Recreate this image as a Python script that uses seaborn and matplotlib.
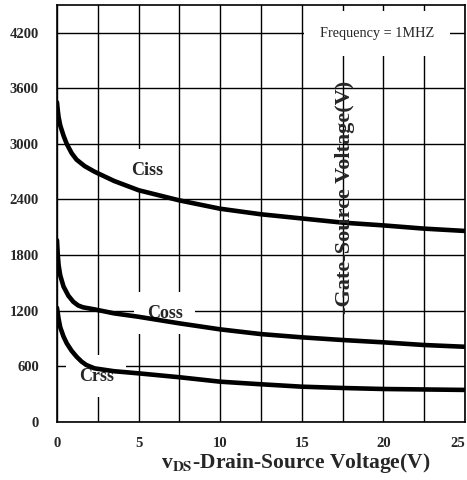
import numpy as np
import pandas as pd
import seaborn as sns
import matplotlib.pyplot as plt

# capacitance vs drain-source voltage
vds_ciss = [0, 0.05, 0.1, 0.2, 0.4, 0.6, 0.9, 1.2, 1.7, 2.3, 3.5, 5, 7.5, 10,
            12.5, 15, 17.5, 20, 22.5, 25]
ciss = [3450, 3360, 3290, 3200, 3090, 3000, 2900, 2830, 2760, 2700, 2600, 2500,
        2390, 2300, 2240, 2195, 2150, 2120, 2085, 2060]

vds_coss = [0, 0.05, 0.1, 0.2, 0.4, 0.7, 1.0, 1.3, 1.6, 2.3, 3.5, 5, 7.5, 10,
            12.5, 15, 17.5, 20, 22.5, 25]
coss = [1960, 1800, 1690, 1580, 1460, 1360, 1295, 1255, 1235, 1213, 1170, 1133,
        1062, 997, 946, 911, 882, 857, 828, 809]

vds_crss = [0, 0.1, 0.2, 0.4, 0.6, 0.9, 1.2, 1.5, 1.8, 2.3, 3.5, 5, 7.5, 10,
            12.5, 15, 17.5, 20, 22.5, 25]
crss = [1230, 1110, 1020, 920, 846, 765, 702, 650, 612, 576, 545, 522, 480, 432,
        404, 378, 364, 353, 348, 343]

x_ticks = [0, 5, 10, 15, 20, 25]
y_ticks = [0, 600, 1200, 1800, 2400, 3000, 3600, 4200]

sns.set_style("white")
plt.rcParams['font.family'] = ['Liberation Serif', 'DejaVu Serif']
plt.rcParams['mathtext.fontset'] = 'stix'

fig = plt.figure(figsize=(4.67, 4.80), dpi=100)
ax = fig.add_axes([0.122, 0.1215, 0.8737, 0.868])

for xs, ys in [(vds_ciss, ciss), (vds_coss, coss), (vds_crss, crss)]:
    df = pd.DataFrame({'vds': xs, 'c': ys})
    sns.lineplot(data=df, x='vds', y='c', ax=ax, color='black', lw=3.3,
                 zorder=5)

ax.set_xlim(0, 25)
ax.set_ylim(0, 4500)
ax.set_xticks(x_ticks)
ax.set_xticks(np.arange(0, 25.1, 2.5), minor=True)
ax.set_yticks(y_ticks)
ax.set_xticklabels([str(t) for t in x_ticks], fontweight='bold', fontsize=10.5)
ax.set_yticklabels([str(t) for t in y_ticks], fontweight='bold', fontsize=10.5)
ax.get_xticklabels()[-1].set_horizontalalignment('right')
ax.tick_params(axis='x', which='both', length=0, pad=11)
ax.tick_params(axis='y', which='both', length=0, pad=13)
ax.grid(True, which='both', color='black', lw=1.0)
ax.set_axisbelow(True)
for s in ax.spines.values():
    s.set_color('black')
    s.set_linewidth(1.2)

ax.set_ylabel('')
ax.set_xlabel(r'v$_{\mathbf{DS}}$-Drain-Source Voltage(V)', fontweight='bold',
              fontsize=15.5)
ax.xaxis.set_label_coords(0.586, -0.071)

box = dict(boxstyle='square,pad=0.7', fc='white', ec='none')
ax.text(5.5, 2716, 'Ciss', fontweight='bold', fontsize=13, ha='center', va='center',
        bbox=box, zorder=3)
ax.text(6.6, 1173, 'Coss', fontweight='bold', fontsize=13, ha='center', va='center',
        bbox=box, zorder=3)
ax.text(2.4, 493, 'Crss', fontweight='bold', fontsize=13, ha='center', va='center',
        bbox=box, zorder=3)
ax.text(19.6, 4195, 'Frequency = 1MHZ', fontsize=10.3, ha='center', va='center',
        bbox=dict(boxstyle='square,pad=1.1', fc='white', ec='none'), zorder=3)
ax.text(17.65, 2425, '-Gate-Source Voltage(V)', fontweight='bold', fontsize=16,
        rotation=90, ha='center', va='center', zorder=6)

fig.savefig('out.png', dpi=100)
